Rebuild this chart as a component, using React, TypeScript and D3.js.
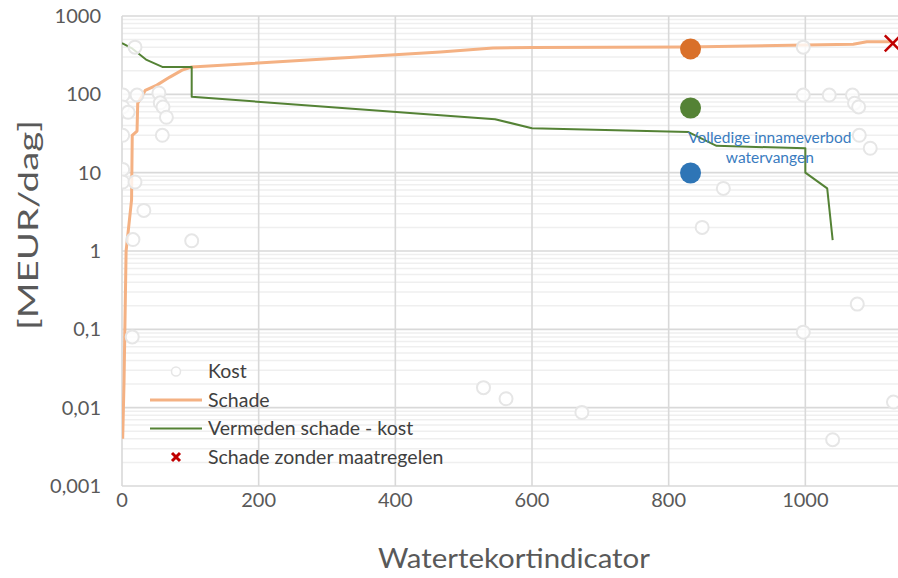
import React from 'react';
import * as d3 from 'd3';

// ---------- data ----------
const xTicks = [0, 200, 400, 600, 800, 1000];
const yTicks = [0.001, 0.01, 0.1, 1, 10, 100, 1000];
const yTickLabels = ['0,001', '0,01', '0,1', '1', '10', '100', '1000'];

const schadeX = [1, 3, 6, 14, 15, 22, 23, 34, 51, 70, 88, 102, 466, 543, 600, 827, 1000, 1070, 1090, 1125];
const schadeY = [0.004, 0.022, 1, 4.5, 30, 34, 77, 112, 131, 166, 204, 223, 347, 390, 395, 402, 426, 437, 468, 468];

const vermedenX = [0, 14, 36, 59, 102, 102, 466, 546, 600, 829, 870, 1000, 1000, 1032, 1040];
const vermedenY = [452, 390, 275, 224, 224, 93, 54, 48, 37, 33, 22, 20.5, 10, 6.3, 1.38];

const kostX = [19, 1.5, 22, 54, 1, 9, 56, 60, 65, 1, 59, 1, 1, 19, 32, 16, 102, 15, 529, 562, 673, 1129, 1040, 880, 849, 1076, 997, 997, 997, 1035, 1069, 1072, 1078, 1079, 1095];
const kostY = [400, 98, 98, 104, 69, 59, 78, 69, 51, 30, 30, 11, 7.6, 7.6, 3.3, 1.4, 1.35, 0.08, 0.018, 0.013, 0.0087, 0.0118, 0.0039, 6.3, 2.0, 0.21, 0.092, 400, 98, 98, 98, 77, 69, 30, 20.5];

const maatregelX = [832, 832, 832];
const maatregelY = [380, 67, 9.9];
const maatregelColors = ['#D9702A', '#548235', '#2E75B6'];

const zonderX = [1128];
const zonderY = [448];

const annotationLines = ['Volledige innameverbod', 'watervangen'];
const annotationX = 948; // data x of the annotation centre
const annotationY = [24, 13.3];

const legendItems = ['Kost', 'Schade', 'Vermeden schade - kost', 'Schade zonder maatregelen'];

// ---------- layout ----------
const W = 898;
const H = 578;
const FONT = 'Lato, "Open Sans", sans-serif';

const x = d3.scaleLinear().domain([0, 1140]).range([122, 901]);
const y = d3.scaleLog().domain([0.001, 1000]).range([486, 16]);

const minorTicks: number[] = [];
for (let k = -3; k <= 2; k++) {
  for (let m = 2; m <= 9; m++) minorTicks.push(m * Math.pow(10, k));
}

const lineGen = d3
  .line<[number, number]>()
  .x((d) => x(d[0]))
  .y((d) => y(d[1]));

const schadePath = lineGen(schadeX.map((v, i) => [v, schadeY[i]] as [number, number])) || '';
const vermedenPath = lineGen(vermedenX.map((v, i) => [v, vermedenY[i]] as [number, number])) || '';

export default function App() {
  const x0 = x.range()[0];
  const x1 = x.range()[1];
  const yTop = y.range()[1];
  const yBot = y.range()[0];
  const legendX = 208;
  const legendBase = [378, 406.5, 435, 463.5];

  return (
    <svg
      width={W}
      height={H}
      viewBox={`0 0 ${W} ${H}`}
      style={{ position: 'absolute', left: 0, top: 0, background: '#fff' }}
      fontFamily={FONT}
    >
      <defs>
        <clipPath id="plot">
          <rect x={x0} y={yTop - 10} width={x1 - x0 + 10} height={yBot - yTop + 12} />
        </clipPath>
      </defs>
      <rect width={W} height={H} fill="#fff" />

      {/* minor gridlines */}
      {minorTicks.map((t) => (
        <line key={'mn' + t} x1={x0} x2={x1} y1={y(t)} y2={y(t)} stroke="#efefef" strokeWidth={1.5} />
      ))}
      {/* major gridlines */}
      {yTicks.map((t) => (
        <line key={'mj' + t} x1={x0} x2={x1} y1={y(t)} y2={y(t)} stroke="#d9d9d9" strokeWidth={1.6} />
      ))}
      {xTicks.map((t) => (
        <line key={'vx' + t} x1={x(t)} x2={x(t)} y1={yTop} y2={yBot} stroke="#d9d9d9" strokeWidth={1.6} />
      ))}

      {/* tick labels */}
      {yTicks.map((t, i) => (
        <text key={'yl' + t} x={101} y={y(t)} dy="0.35em" textAnchor="end" fontSize={20} fill="#595959">
          {yTickLabels[i]}
        </text>
      ))}
      {xTicks.map((t) => (
        <text key={'xl' + t} x={x(t)} y={507} textAnchor="middle" fontSize={20} fill="#595959">
          {t}
        </text>
      ))}

      {/* axis titles */}
      <text x={514} y={568} textAnchor="middle" fontSize={26} fill="#595959" textLength={272} lengthAdjust="spacingAndGlyphs">
        Watertekortindicator
      </text>
      <text
        transform="translate(38,225) rotate(-90)"
        textAnchor="middle"
        fontSize={26}
        fill="#595959"
        textLength={210}
        lengthAdjust="spacingAndGlyphs"
      >
        [MEUR/dag]
      </text>

      <g clipPath="url(#plot)">
        <path d={schadePath} fill="none" stroke="#F4B183" strokeWidth={3} strokeLinejoin="round" />
        <path d={vermedenPath} fill="none" stroke="#548235" strokeWidth={2} strokeLinejoin="round" />

        {kostX.map((v, i) => (
          <circle
            key={'k' + i}
            cx={x(v)}
            cy={y(kostY[i])}
            r={6.5}
            fill="#fff"
            fillOpacity={0.8}
            stroke="#e6e6e6"
            strokeWidth={2}
          />
        ))}

        {zonderX.map((v, i) => {
          const cx = x(v);
          const cy = y(zonderY[i]);
          const s = 8;
          return (
            <path
              key={'z' + i}
              d={`M${cx - s},${cy - s}L${cx + s},${cy + s}M${cx - s},${cy + s}L${cx + s},${cy - s}`}
              stroke="#C00000"
              strokeWidth={2.5}
            />
          );
        })}

        {maatregelX.map((v, i) => (
          <circle key={'m' + i} cx={x(v)} cy={y(maatregelY[i])} r={10.5} fill={maatregelColors[i]} />
        ))}
      </g>

      {/* annotation */}
      {annotationLines.map((t, i) => (
        <text key={'an' + i} x={x(annotationX)} y={y(annotationY[i])} textAnchor="middle" fontSize={15.5} fill="#3A7CC0">
          {t}
        </text>
      ))}

      {/* legend */}
      <g>
        <circle cx={176} cy={legendBase[0] - 6.5} r={4.5} fill="#fff" stroke="#e6e6e6" strokeWidth={1.5} />
        <line x1={150} x2={202} y1={legendBase[1] - 6.5} y2={legendBase[1] - 6.5} stroke="#F4B183" strokeWidth={3} />
        <line x1={150} x2={202} y1={legendBase[2] - 6.5} y2={legendBase[2] - 6.5} stroke="#548235" strokeWidth={2} />
        <path
          d={`M${172},${legendBase[3] - 10.5}L${180},${legendBase[3] - 2.5}M${172},${legendBase[3] - 2.5}L${180},${legendBase[3] - 10.5}`}
          stroke="#C00000"
          strokeWidth={3}
        />
        {legendItems.map((t, i) => (
          <text key={'lg' + i} x={legendX} y={legendBase[i]} fontSize={19.5} fill="#404040">
            {t}
          </text>
        ))}
      </g>
    </svg>
  );
}
